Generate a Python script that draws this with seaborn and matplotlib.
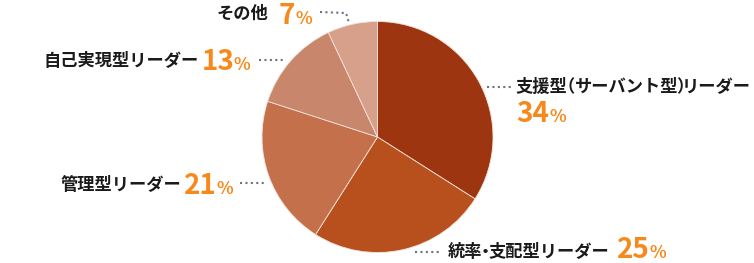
import matplotlib
matplotlib.use("Agg")
import numpy as np
import matplotlib.pyplot as plt
import seaborn as sns

categories = ["支援型（サーバント型）リーダー", "統率・支配型リーダー", "管理型リーダー", "自己実現型リーダー", "その他"]
values = [34, 25, 21, 13, 7]
colors = ["#9C3510", "#B8501E", "#C4704A", "#C8876C", "#D6A08A"]

sns.set_theme(style="white")
plt.rcParams["font.family"] = ["Noto Sans CJK JP", "DejaVu Sans"]

W, H = 754, 263
LABEL_C = "#1a1a1a"
NUM_C = "#F7891C"
DOT_C = "#6E7180"
LBL = dict(fontsize=12.4, fontweight="bold", color=LABEL_C)
NUM = dict(fontsize=20, fontweight="bold", color=NUM_C)
PCT = dict(fontsize=12.5, fontweight="bold", color=NUM_C)

# spacing (px) before / after full-width punctuation, to set it proportionally
PUNCT_GAP = {"（": (3, 2), "）": (1, 2), "・": (2, 2)}

_cache = {}


def ink_box(txt, kw):
    """Ink extents (px, relative to the anchor point, y downward) of a text."""
    key = (txt, tuple(sorted(kw.items())))
    if key in _cache:
        return _cache[key]
    f = plt.figure(figsize=(W / 100, H / 100), dpi=100)
    f.patch.set_facecolor("white")
    f.text(0.5, 0.5, txt, ha="left", va="baseline", **kw)
    f.canvas.draw()
    a = np.asarray(f.canvas.buffer_rgba())[:, :, :3].astype(int)
    plt.close(f)
    mask = (255 - a).max(axis=2) > 70
    ys, xs = np.nonzero(mask)
    X0, Y0 = W * 0.5, H * 0.5
    res = (xs.min() - X0, xs.max() + 1 - X0, ys.min() - Y0, ys.max() + 1 - Y0)
    _cache[key] = res
    return res


fig = plt.figure(figsize=(W / 100, H / 100), dpi=100)
fig.patch.set_facecolor("white")

cx, cy, r = 377.5, 137.0, 115.5
ax = fig.add_axes([(cx - r) / W, (H - cy - r) / H, 2 * r / W, 2 * r / H])
ax.pie(values, colors=colors, startangle=90, counterclock=False, radius=1,
       wedgeprops=dict(edgecolor="#f3e2da", linewidth=0.6))
ax.set_xlim(-1, 1)
ax.set_ylim(-1, 1)
ax.set_aspect("auto")
ax.axis("off")


def put(txt, kw, ink_left, ybase):
    x0, x1, _, _ = ink_box(txt, kw)
    X = ink_left - x0
    fig.text(X / W, 1 - ybase / H, txt, ha="left", va="baseline", **kw)
    return X + x1


def split(txt):
    pieces, buf = [], ""
    for ch in txt:
        if ch in PUNCT_GAP:
            if buf:
                pieces.append(buf)
            pieces.append(ch)
            buf = ""
        else:
            buf += ch
    if buf:
        pieces.append(buf)
    return pieces


def label(txt, left, ycenter):
    _, _, t, b = ink_box(txt, LBL)
    ybase = ycenter - (t + b) / 2
    x = left
    prev_after = 0
    for i, p in enumerate(split(txt)):
        before, after = PUNCT_GAP.get(p, (0, 0))
        if i > 0:
            x += max(before, prev_after)
        x = put(p, LBL, x, ybase)
        prev_after = after


def number(val, xl, ybottom):
    s = str(val)
    _, _, _, b = ink_box(s, NUM)
    x = put(s, NUM, xl, ybottom - b)
    _, _, _, b2 = ink_box("%", PCT)
    put("%", PCT, x + 3, ybottom - b2)


def dots(xs, ys):
    fx = [x / W for x in xs]
    fy = [1 - y / H for y in ys]
    fig.add_artist(plt.Line2D(fx, fy, color=DOT_C, linewidth=1.5,
                              linestyle=(0, (1, 1.6)), transform=fig.transFigure))


# 支援型（サーバント型）リーダー
dots([487, 511], [87, 87])
label(categories[0], 517, 86)
number(values[0], 518, 123)

# 統率・支配型リーダー
dots([415, 441], [252, 252])
label(categories[1], 448, 251)
number(values[1], 618, 259)

# 管理型リーダー
label(categories[2], 62, 183.5)
number(values[2], 185, 194)
dots([240, 267], [183, 183])

# 自己実現型リーダー
label(categories[3], 46.5, 60.5)
number(values[3], 204, 70)
dots([259, 283], [60, 60])

# その他
label(categories[4], 218, 12.5)
number(values[4], 280, 24)
dots([320, 346, 349], [12, 13, 23])

fig.savefig("out.png", dpi=100, facecolor="white")
